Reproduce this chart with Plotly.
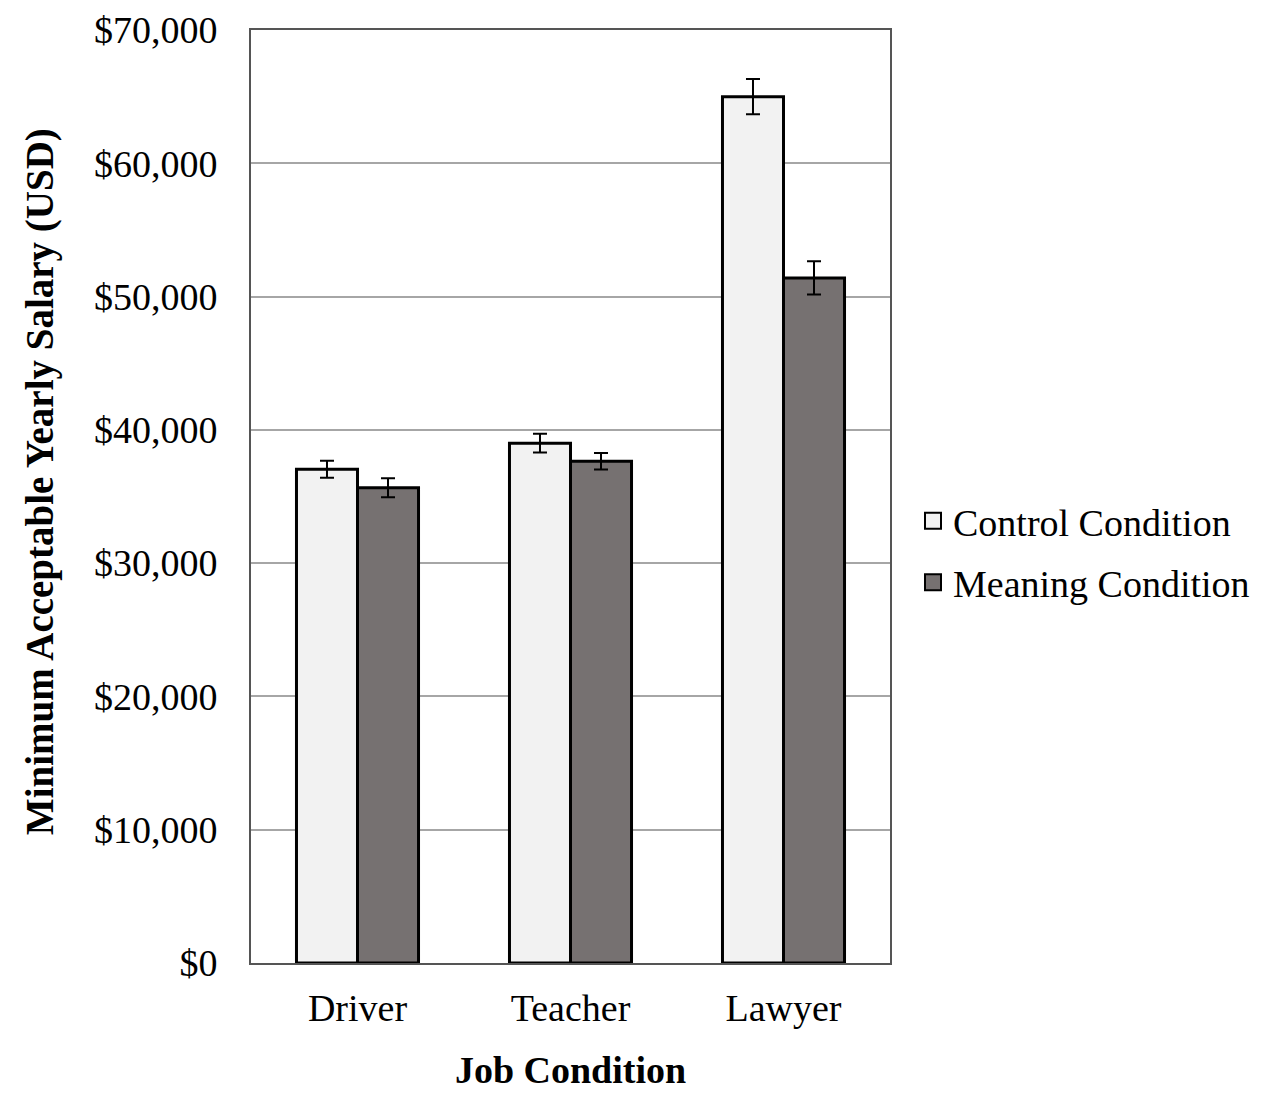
import plotly.graph_objects as go

categories = ["Driver", "Teacher", "Lawyer"]
control_values = [37050, 39000, 65000]
control_errors = [640, 700, 1330]
meaning_values = [35650, 37650, 51400]
meaning_errors = [710, 615, 1250]
series_names = ["Control Condition", "Meaning Condition"]
series_colors = ["#f2f2f2", "#767171"]

FONT = "Liberation Serif, Times New Roman, serif"
FS = 38

fig = go.Figure()
for vals, errs, name, color in [
    (control_values, control_errors, series_names[0], series_colors[0]),
    (meaning_values, meaning_errors, series_names[1], series_colors[1]),
]:
    fig.add_trace(go.Bar(
        x=categories, y=vals, name=name, showlegend=False,
        marker=dict(color=color, line=dict(color="black", width=3)),
        error_y=dict(type="data", array=errs, color="black", thickness=2, width=7),
    ))
# legend entries with larger square swatches
for i, (name, color) in enumerate(zip(series_names, series_colors)):
    fig.add_trace(go.Scatter(
        x=[None], y=[None], mode="markers", name=name, legendgroup=str(i),
        marker=dict(symbol="square", size=19, color=color, line=dict(color="black", width=2)),
    ))

fig.update_layout(
    width=1259, height=1094,
    margin=dict(l=243, r=377, t=22, b=139),
    paper_bgcolor="white", plot_bgcolor="white",
    barmode="group", bargap=0.427, bargroupgap=0,
    font=dict(family=FONT, size=FS, color="black"),
    legend=dict(
        x=1.036, xanchor="left", y=0.441, yanchor="middle",
        traceorder="grouped", tracegroupgap=9,
        font=dict(family=FONT, size=FS, color="black"),
        bgcolor="rgba(0,0,0,0)",
    ),
    showlegend=True,
    annotations=[dict(
        text="<b>Minimum Acceptable Yearly Salary (USD)</b>",
        xref="paper", yref="paper", x=-0.330, y=0.5155,
        xanchor="center", yanchor="middle", textangle=-90, showarrow=False,
        font=dict(family=FONT, size=39, color="black"),
    )],
)
fig.update_xaxes(
    showline=True, linecolor="#555555", linewidth=2, mirror=True,
    ticks="", ticklabelstandoff=10, automargin=False,
    tickfont=dict(family=FONT, size=FS),
    title=dict(text="<b>Job Condition</b>", font=dict(family=FONT, size=FS), standoff=29),
)
fig.update_yaxes(
    range=[0, 70000], dtick=10000, tickprefix="$", tickformat=",",
    showgrid=True, gridcolor="#a6a6a6", gridwidth=1.5,
    showline=True, linecolor="#555555", linewidth=2, mirror=True,
    ticks="", ticklabelstandoff=24, zeroline=False, automargin=False,
    tickfont=dict(family=FONT, size=FS),
)

fig.write_html("out.html")
